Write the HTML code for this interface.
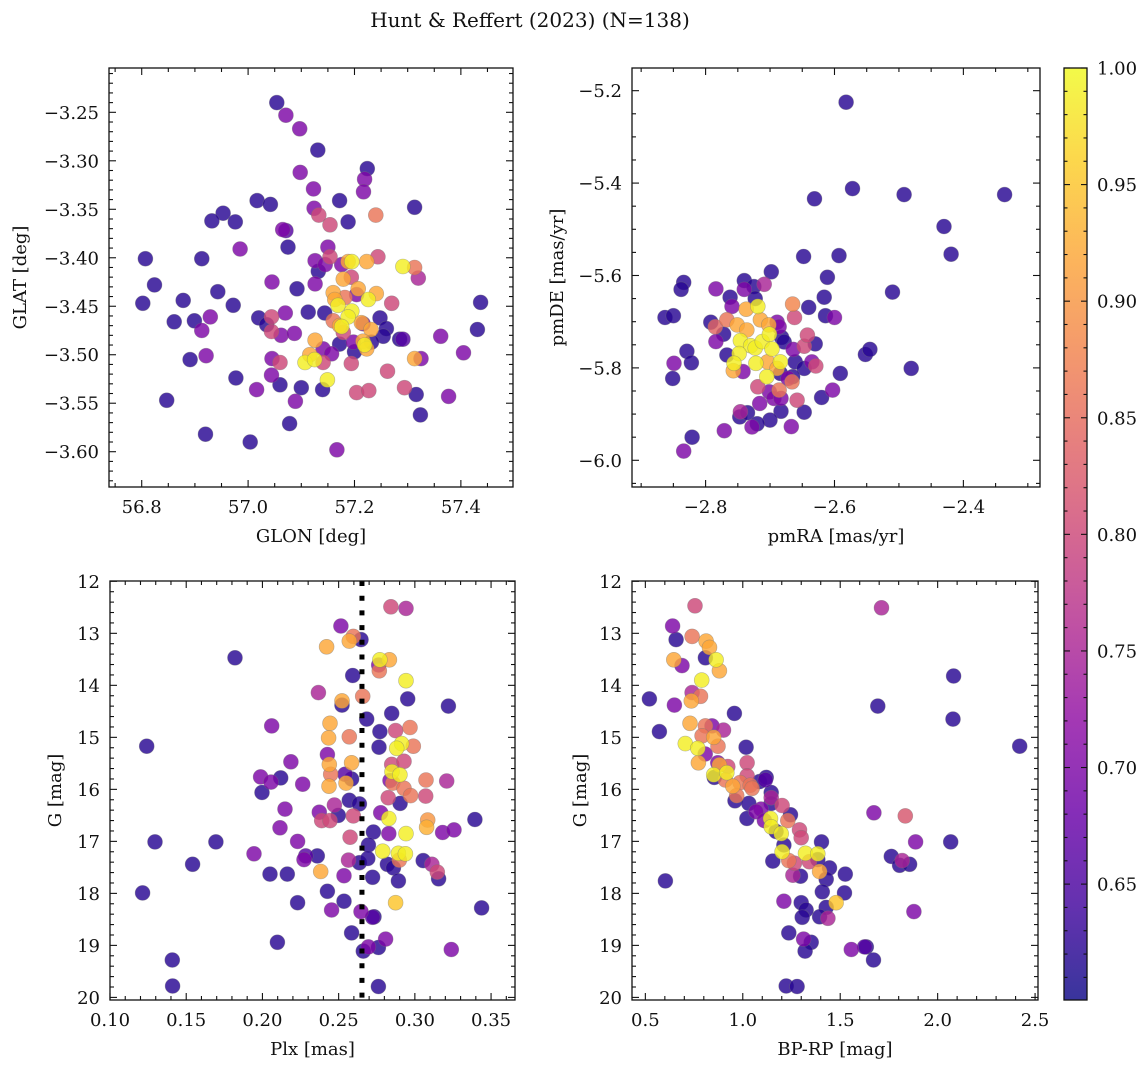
<!DOCTYPE html>
<html><head><meta charset="utf-8"><title>Hunt & Reffert (2023)</title>
<style>
html,body{margin:0;padding:0;background:#fff;}
svg{display:block;font-family:"DejaVu Serif","Liberation Serif",serif;}
</style></head>
<body>
<svg id="fig" width="1148" height="1067" viewBox="0 0 1148 1067" xmlns="http://www.w3.org/2000/svg">
<text x="530" y="27" font-size="20" text-anchor="middle" fill="#111">Hunt &amp; Reffert (2023) (N=138)</text>
</svg>
<script>
// ---------- Panel 1: GLON / GLAT ----------
const glon = [57.054,57.071,57.097,57.131,57.224,57.219,57.217,57.098,57.123,57.017,57.042,57.172,57.313,57.124,57.133,57.240,57.154,56.953,56.932,56.976,57.188,57.065,57.071,57.075,56.985,57.150,56.807,56.913,57.126,57.154,57.145,57.176,57.132,57.188,57.195,57.223,57.244,57.291,57.313,57.320,57.179,57.194,57.126,57.045,56.824,56.943,57.092,57.207,57.241,57.226,57.204,57.160,57.163,57.182,57.169,57.270,56.802,56.878,56.972,57.437,57.195,57.188,57.144,57.113,57.070,57.044,57.020,56.929,56.861,56.899,56.913,57.248,57.160,57.172,57.176,57.213,57.216,57.231,57.260,57.431,57.362,57.285,57.291,57.035,57.044,57.062,57.087,57.179,57.172,57.126,57.254,57.198,57.216,57.219,57.232,57.200,57.141,57.157,57.223,57.405,56.891,56.921,57.045,57.060,57.116,57.107,57.125,57.141,57.194,57.313,57.325,56.977,57.044,57.149,57.262,57.016,57.060,57.100,57.140,57.204,57.227,57.294,57.316,57.377,56.847,57.089,57.324,57.078,56.920,57.004,57.167];
const glat = [-3.240,-3.253,-3.267,-3.289,-3.308,-3.319,-3.332,-3.312,-3.329,-3.341,-3.345,-3.341,-3.348,-3.349,-3.356,-3.356,-3.366,-3.354,-3.362,-3.363,-3.363,-3.371,-3.372,-3.389,-3.391,-3.389,-3.401,-3.401,-3.403,-3.399,-3.407,-3.407,-3.414,-3.404,-3.404,-3.404,-3.399,-3.409,-3.410,-3.421,-3.422,-3.420,-3.427,-3.425,-3.428,-3.435,-3.432,-3.432,-3.437,-3.443,-3.438,-3.436,-3.443,-3.441,-3.449,-3.447,-3.447,-3.444,-3.449,-3.446,-3.455,-3.461,-3.457,-3.456,-3.457,-3.461,-3.462,-3.461,-3.466,-3.465,-3.475,-3.462,-3.465,-3.470,-3.471,-3.467,-3.468,-3.474,-3.473,-3.474,-3.481,-3.484,-3.484,-3.469,-3.476,-3.480,-3.478,-3.477,-3.489,-3.485,-3.481,-3.487,-3.486,-3.490,-3.487,-3.497,-3.494,-3.499,-3.494,-3.498,-3.505,-3.501,-3.504,-3.508,-3.500,-3.508,-3.505,-3.508,-3.509,-3.504,-3.504,-3.524,-3.521,-3.526,-3.517,-3.536,-3.531,-3.534,-3.536,-3.539,-3.537,-3.534,-3.541,-3.543,-3.547,-3.548,-3.562,-3.571,-3.582,-3.590,-3.598];
const prob1 = [.62,.70,.70,.62,.62,.70,.70,.70,.70,.62,.62,.62,.62,.70,.80,.86,.80,.62,.62,.62,.62,.70,.66,.62,.70,.70,.62,.62,.70,.80,.70,.70,.62,.92,.99,.92,.80,.99,.86,.75,.92,.80,.70,.70,.62,.62,.62,.92,.92,.99,.70,.92,.92,.86,.99,.80,.62,.62,.62,.62,.99,.99,.62,.62,.70,.80,.62,.70,.62,.62,.70,.62,.86,.92,.99,.92,.70,.92,.62,.62,.70,.62,.66,.62,.80,.70,.70,.80,.62,.92,.62,.70,.92,.99,.62,.62,.70,.70,.92,.70,.62,.70,.70,.80,.92,.99,.99,.80,.80,.92,.70,.62,.70,.99,.80,.70,.62,.62,.62,.80,.80,.80,.62,.70,.62,.70,.62,.62,.62,.62,.70];

// ---------- Panel 2: pmRA / pmDE ----------
const pmra = [-2.582,-2.572,-2.631,-2.492,-2.336,-2.430,-2.419,-2.648,-2.593,-2.698,-2.611,-2.510,-2.616,-2.640,-2.614,-2.600,-2.834,-2.838,-2.863,-2.850,-2.740,-2.725,-2.709,-2.784,-2.740,-2.762,-2.759,-2.723,-2.665,-2.662,-2.737,-2.719,-2.792,-2.767,-2.785,-2.772,-2.784,-2.751,-2.736,-2.715,-2.702,-2.689,-2.686,-2.682,-2.678,-2.746,-2.730,-2.723,-2.712,-2.701,-2.697,-2.767,-2.748,-2.756,-2.757,-2.742,-2.722,-2.704,-2.684,-2.689,-2.705,-2.684,-2.672,-2.664,-2.647,-2.642,-2.630,-2.661,-2.647,-2.635,-2.629,-2.665,-2.666,-2.686,-2.701,-2.719,-2.694,-2.683,-2.658,-2.620,-2.603,-2.591,-2.716,-2.746,-2.747,-2.735,-2.683,-2.647,-2.700,-2.720,-2.728,-2.667,-2.771,-2.821,-2.834,-2.849,-2.851,-2.829,-2.822,-2.552,-2.545,-2.481];
const pmde = [-5.225,-5.412,-5.434,-5.425,-5.425,-5.494,-5.554,-5.559,-5.557,-5.592,-5.604,-5.636,-5.647,-5.669,-5.687,-5.691,-5.615,-5.630,-5.691,-5.687,-5.611,-5.624,-5.619,-5.629,-5.630,-5.647,-5.667,-5.650,-5.662,-5.691,-5.673,-5.667,-5.701,-5.696,-5.711,-5.727,-5.743,-5.707,-5.718,-5.696,-5.707,-5.701,-5.711,-5.734,-5.744,-5.741,-5.752,-5.757,-5.743,-5.727,-5.759,-5.772,-5.769,-5.790,-5.806,-5.808,-5.790,-5.787,-5.787,-5.801,-5.819,-5.812,-5.823,-5.760,-5.753,-5.729,-5.748,-5.787,-5.801,-5.787,-5.796,-5.819,-5.830,-5.848,-5.852,-5.841,-5.866,-5.866,-5.870,-5.864,-5.848,-5.812,-5.877,-5.895,-5.906,-5.897,-5.894,-5.896,-5.913,-5.921,-5.928,-5.927,-5.936,-5.950,-5.980,-5.790,-5.823,-5.764,-5.789,-5.771,-5.760,-5.801];
const prob2 = [.62,.62,.62,.62,.62,.62,.62,.62,.62,.62,.62,.62,.62,.62,.62,.70,.62,.62,.62,.62,.62,.62,.75,.70,.70,.62,.70,.62,.88,.80,.92,.99,.62,.86,.84,.62,.70,.92,.92,.92,.92,.70,.70,.62,.62,.99,.99,.99,.99,.99,.99,.62,.99,.99,.92,.70,.99,.92,.99,.92,.99,.62,.70,.70,.80,.80,.62,.62,.62,.70,.80,.62,.86,.86,.70,.80,.70,.70,.80,.62,.70,.62,.70,.75,.62,.62,.62,.62,.62,.62,.70,.70,.70,.62,.70,.70,.62,.62,.62,.62,.62,.62];

// ---------- Panel 3: Plx / G ----------
const plx = [0.2843,0.2942,0.2515,0.2596,0.2570,0.2647,0.2421,0.1820,0.2771,0.2833,0.2763,0.2767,0.2592,0.2942,0.2367,0.2658,0.2522,0.2522,0.2953,0.3220,0.2848,0.2684,0.2443,0.2061,0.2968,0.2874,0.2771,0.2434,0.2570,0.1241,0.2765,0.2913,0.2881,0.2990,0.2426,0.2187,0.2439,0.2585,0.2848,0.2929,0.1988,0.2056,0.2120,0.2264,0.2448,0.2542,0.2585,0.2437,0.2548,0.2850,0.2902,0.2837,0.2855,0.2929,0.2972,0.3073,0.3209,0.1997,0.2570,0.2636,0.2825,0.2903,0.3071,0.2148,0.2472,0.2373,0.2498,0.2389,0.2443,0.2596,0.2776,0.2829,0.3084,0.3077,0.3394,0.2115,0.3182,0.3257,0.2728,0.2829,0.2942,0.2575,0.1295,0.1695,0.2231,0.2695,0.2789,0.2892,0.2938,0.1945,0.2284,0.2360,0.2273,0.2565,0.2636,0.2691,0.2820,0.2859,0.2898,0.3055,0.3112,0.3147,0.3156,0.1542,0.2050,0.2163,0.2382,0.2535,0.2723,0.2892,0.1214,0.2426,0.2231,0.2535,0.2874,0.3438,0.2454,0.2647,0.2723,0.2732,0.2585,0.2098,0.2808,0.2695,0.2761,0.2662,0.3239,0.1409,0.1411,0.2761];
const gmag3 = [12.49,12.52,12.86,13.06,13.15,13.12,13.26,13.47,13.51,13.51,13.61,13.72,13.81,13.91,14.14,14.21,14.30,14.38,14.26,14.40,14.54,14.65,14.73,14.78,14.81,14.87,14.89,15.01,14.99,15.17,15.19,15.12,15.21,15.17,15.33,15.47,15.52,15.49,15.52,15.46,15.76,15.86,15.78,15.90,15.71,15.71,15.80,15.94,15.88,15.66,15.72,15.83,15.88,15.98,16.12,15.82,15.84,16.06,16.21,16.28,16.16,16.27,16.13,16.38,16.30,16.44,16.50,16.60,16.60,16.51,16.45,16.56,16.59,16.73,16.58,16.74,16.83,16.78,16.82,16.85,16.85,16.92,17.01,17.01,17.00,17.07,17.19,17.23,17.24,17.24,17.28,17.28,17.35,17.36,17.41,17.33,17.44,17.51,17.36,17.37,17.44,17.59,17.72,17.44,17.63,17.63,17.58,17.66,17.69,17.76,17.99,17.96,18.18,18.15,18.18,18.28,18.32,18.35,18.46,18.45,18.76,18.94,18.88,19.03,19.04,19.11,19.08,19.28,19.78,19.79];
const prob3 = [.80,.75,.70,.86,.92,.62,.92,.62,.99,.92,.70,.86,.62,.99,.75,.86,.92,.62,.62,.62,.62,.62,.92,.70,.86,.80,.62,.92,.86,.62,.62,.99,.99,.86,.70,.70,.92,.92,.80,.80,.70,.70,.62,.70,.86,.66,.62,.92,.92,.99,.99,.70,.86,.86,.86,.86,.75,.62,.62,.62,.80,.62,.80,.70,.75,.70,.62,.80,.80,.80,.70,.99,.90,.93,.62,.70,.70,.70,.62,.70,.99,.80,.62,.62,.70,.62,.99,.99,.99,.70,.66,.62,.70,.75,.62,.62,.62,.62,.86,.62,.75,.80,.62,.62,.62,.62,.92,.70,.62,.62,.62,.62,.62,.62,.95,.62,.70,.70,.66,.62,.62,.62,.70,.70,.62,.62,.70,.62,.62,.62];
const plxMean = 0.2653;

// ---------- Panel 4: BP-RP / G ----------
const bprp = [0.755,1.712,0.640,0.658,0.740,0.812,0.829,0.808,0.863,0.880,0.646,0.688,0.789,2.082,0.740,0.783,0.736,0.521,0.649,1.693,0.957,2.079,0.729,0.808,0.842,0.901,0.572,0.791,0.851,0.873,0.705,0.769,1.017,2.421,0.807,0.772,0.872,0.880,0.923,1.022,0.851,0.918,0.854,0.911,1.022,0.949,0.986,1.038,1.048,1.086,1.120,1.116,1.146,1.146,0.969,0.960,1.031,1.146,1.202,1.094,1.068,1.021,1.111,1.142,1.245,1.231,1.146,1.171,1.197,1.291,1.300,1.673,1.834,1.404,1.887,2.067,1.211,1.202,1.322,1.385,1.342,1.385,1.154,1.236,1.265,1.762,1.805,1.818,1.856,1.445,1.394,1.257,1.296,1.526,1.428,0.603,1.408,1.522,1.479,1.211,1.300,1.325,1.428,1.437,1.305,1.394,1.878,1.236,1.312,1.351,1.320,1.557,1.625,1.634,1.671,1.223,1.279];
const gmag4 = [12.47,12.51,12.86,13.12,13.06,13.15,13.27,13.47,13.51,13.72,13.51,13.62,13.90,13.82,14.14,14.21,14.30,14.26,14.38,14.40,14.54,14.65,14.73,14.78,14.78,14.86,14.89,14.97,15.00,15.17,15.12,15.21,15.19,15.17,15.32,15.49,15.49,15.53,15.56,15.49,15.72,15.68,15.77,15.82,15.74,15.94,15.87,15.92,15.98,15.85,15.77,15.82,16.06,16.16,16.12,16.22,16.27,16.27,16.31,16.38,16.43,16.56,16.60,16.56,16.49,16.60,16.72,16.81,16.85,16.78,16.93,16.45,16.51,17.01,17.01,17.01,17.07,17.20,17.23,17.24,17.39,17.35,17.38,17.37,17.42,17.29,17.46,17.37,17.44,17.51,17.58,17.65,17.67,17.63,17.73,17.76,17.97,17.99,18.18,18.15,18.18,18.32,18.27,18.48,18.46,18.45,18.35,18.76,18.88,18.94,19.11,19.08,19.03,19.03,19.28,19.78,19.79];
const prob4 = [.80,.75,.70,.62,.86,.92,.92,.62,.99,.92,.92,.70,.99,.62,.75,.86,.92,.62,.70,.62,.62,.62,.92,.86,.70,.75,.62,.86,.92,.86,.99,.99,.62,.62,.70,.92,.70,.92,.80,.80,.99,.99,.62,.86,.80,.92,.86,.86,.86,.62,.62,.66,.62,.75,.86,.62,.62,.62,.80,.70,.70,.62,.70,.99,.62,.86,.99,.62,.99,.80,.80,.70,.82,.62,.70,.62,.62,.99,.99,.99,.80,.62,.62,.86,.80,.62,.62,.75,.62,.62,.92,.75,.62,.62,.62,.62,.62,.62,.95,.70,.62,.62,.62,.75,.62,.62,.70,.62,.70,.62,.62,.70,.66,.62,.62,.62,.62];

// ---------- Colorbar ticks ----------
const cbarTicks = [0.65,0.70,0.75,0.80,0.85,0.90,0.95,1.00];
const cbarMin = 0.6003, cbarMax = 1.0;

const NS = 'http://www.w3.org/2000/svg';
const svg = document.getElementById('fig');
function mk(tag, attrs, parent){
  const e = document.createElementNS(NS, tag);
  for (const k in attrs) e.setAttribute(k, attrs[k]);
  (parent||svg).appendChild(e);
  return e;
}
const plasmaStops = ['#0d0887','#41049d','#6a00a8','#8f0da4','#b12a90','#cc4778','#e16462','#f2844b','#fca636','#fcce25','#f0f921'];
function hex2rgb(h){return [parseInt(h.slice(1,3),16),parseInt(h.slice(3,5),16),parseInt(h.slice(5,7),16)];}
function plasma(t){
  t = Math.max(0, Math.min(1, t));
  const s = t*10, i = Math.min(9, Math.floor(s)), f = s - i;
  const a = hex2rgb(plasmaStops[i]), b = hex2rgb(plasmaStops[i+1]);
  return 'rgb(' + a.map((v,k)=>Math.round(v+(b[k]-v)*f)).join(',') + ')';
}
function pcol(p){ return plasma((p - cbarMin)/(cbarMax - cbarMin)); }
function fmt(v, d){ const s = v.toFixed(d); return s.replace('-', '\u2212'); }

const panels = [
  {name:'sky-position', L:109, R:513, T:68, B:487, xmin:56.7385, xmax:57.498, ymin:-3.6364, ymax:-3.2043,
   xMaj:0.2, xMin:0.05, yMaj:0.05, yMin:0.01, xd:1, yd:2, xlabel:'GLON [deg]', ylabel:'GLAT [deg]', ylx:20,
   xs:glon, ys:glat, ps:prob1, invY:false},
  {name:'proper-motion', L:632, R:1040, T:68, B:487, xmin:-2.9142, xmax:-2.2811, ymin:-6.0578, ymax:-5.1509,
   xMaj:0.2, xMin:0.05, yMaj:0.2, yMin:0.05, xd:1, yd:1, xlabel:'pmRA [mas/yr]', ylabel:'pmDE [mas/yr]', ylx:557,
   xs:pmra, ys:pmde, ps:prob2, invY:false},
  {name:'parallax-magnitude', L:110, R:515, T:581, B:1000, xmin:0.10, xmax:0.3657, ymin:11.994, ymax:20.05,
   xMaj:0.05, xMin:0.01, yMaj:1, yMin:0.2, xd:2, yd:0, xlabel:'Plx [mas]', ylabel:'G [mag]', ylx:55,
   xs:plx, ys:gmag3, ps:prob3, invY:true},
  {name:'color-magnitude', L:632, R:1038, T:581, B:1000, xmin:0.4315, xmax:2.515, ymin:11.994, ymax:20.05,
   xMaj:0.5, xMin:0.1, yMaj:1, yMin:0.2, xd:1, yd:0, xlabel:'BP-RP [mag]', ylabel:'G [mag]', ylx:580,
   xs:bprp, ys:gmag4, ps:prob4, invY:true}
];

panels.forEach((P, pi) => {
  const g = mk('g', {});
  
  
  const sx = v => P.L + (v - P.xmin)/(P.xmax - P.xmin)*(P.R - P.L);
  const sy = P.invY ? (v => P.T + (v - P.ymin)/(P.ymax - P.ymin)*(P.B - P.T))
                    : (v => P.B - (v - P.ymin)/(P.ymax - P.ymin)*(P.B - P.T));
  const clipId = 'clip' + pi;
  const cp = mk('clipPath', {id: clipId}, g);
  mk('rect', {x:P.L, y:P.T, width:P.R-P.L, height:P.B-P.T}, cp);

  // points (low prob first)
  const pts = mk('g', {'clip-path':'url(#'+clipId+')'}, g);
  
  
  const n = Math.min(P.xs.length, P.ys.length, P.ps.length);
  const idx = [...Array(n).keys()].sort((a,b)=>P.ps[a]-P.ps[b]);
  idx.forEach(i => {
    const c = mk('circle', {cx:sx(P.xs[i]).toFixed(1), cy:sy(P.ys[i]).toFixed(1), r:7.5,
      fill:pcol(P.ps[i]), 'fill-opacity':0.82, stroke:'#777', 'stroke-opacity':0.5, 'stroke-width':0.6}, pts);
    
    
  });

  if (pi === 2) {
    const ln = mk('line', {x1:sx(plxMean), x2:sx(plxMean), y1:P.T, y2:P.B, stroke:'#000', 'stroke-width':5, 'stroke-dasharray':'5 9.7'}, g);
    
    
  }

  // ticks
  const tk = mk('g', {stroke:'#111', 'stroke-width':1.1}, g);
  const eps = 1e-9;
  const xStart = Math.ceil(P.xmin/P.xMin - eps)*P.xMin;
  for (let v = xStart; v <= P.xmax + eps; v += P.xMin) {
    const isMaj = Math.abs(v/P.xMaj - Math.round(v/P.xMaj)) < 1e-6;
    const len = isMaj ? 7 : 4, x = sx(v);
    mk('line', {x1:x, x2:x, y1:P.B, y2:P.B-len}, tk);
    mk('line', {x1:x, x2:x, y1:P.T, y2:P.T+len}, tk);
    if (isMaj) {
      const t = mk('text', {x:x, y:P.B+26, 'font-size':18, 'text-anchor':'middle', fill:'#111', stroke:'none'}, g);
      t.textContent = fmt(Math.round(v/P.xMaj)*P.xMaj, P.xd);
      
      
    }
  }
  const yStart = Math.ceil(P.ymin/P.yMin - eps)*P.yMin;
  for (let v = yStart; v <= P.ymax + eps; v += P.yMin) {
    const isMaj = Math.abs(v/P.yMaj - Math.round(v/P.yMaj)) < 1e-6;
    const len = isMaj ? 7 : 4, y = sy(v);
    mk('line', {x1:P.L, x2:P.L+len, y1:y, y2:y}, tk);
    mk('line', {x1:P.R, x2:P.R-len, y1:y, y2:y}, tk);
    if (isMaj) {
      const t = mk('text', {x:P.L-10, y:y+6.5, 'font-size':18, 'text-anchor':'end', fill:'#111', stroke:'none'}, g);
      t.textContent = fmt(Math.round(v/P.yMaj)*P.yMaj, P.yd);
      
      
    }
  }
  const fr = mk('rect', {x:P.L, y:P.T, width:P.R-P.L, height:P.B-P.T, fill:'none', stroke:'#111', 'stroke-width':1.3}, g);
  
  

  const xl = mk('text', {x:(P.L+P.R)/2, y:P.B+55, 'font-size':18, 'text-anchor':'middle', fill:'#111'}, g);
  xl.textContent = P.xlabel;
  
  
  const yl = mk('text', {x:0, y:0, 'font-size':18, 'text-anchor':'middle', fill:'#111',
    transform:'translate(' + (P.ylx+6) + ',' + ((P.T+P.B)/2) + ') rotate(-90)'}, g);
  yl.textContent = P.ylabel;
  
  
});

// ---------- Colorbar ----------
(function(){
  const L = 1064, R = 1087, T = 68, B = 1000;
  const g = mk('g', {});
  
  
  const defs = mk('defs', {}, g);
  const grad = mk('linearGradient', {id:'plasmaGrad', x1:0, y1:1, x2:0, y2:0}, defs);
  for (let k = 0; k <= 20; k++) mk('stop', {offset:(k/20), 'stop-color':plasma(k/20)}, grad);
  mk('rect', {x:L, y:T, width:R-L, height:B-T, fill:'url(#plasmaGrad)', 'fill-opacity':0.82}, g);
  const sy = v => B - (v - cbarMin)/(cbarMax - cbarMin)*(B - T);
  const tk = mk('g', {stroke:'#111', 'stroke-width':1.1}, g);
  for (let v = 0.61; v <= 1.0 + 1e-9; v += 0.01) {
    const maj = Math.abs(v*20 - Math.round(v*20)) < 1e-6;
    const y = sy(v), len = maj ? 6 : 3.5;
    mk('line', {x1:L, x2:L+len, y1:y, y2:y}, tk);
    mk('line', {x1:R, x2:R-len, y1:y, y2:y}, tk);
  }
  cbarTicks.forEach(v => {
    const t = mk('text', {x:R+10, y:sy(v)+6.5, 'font-size':18, fill:'#111'}, g);
    t.textContent = v.toFixed(2);
    
    
  });
  mk('rect', {x:L, y:T, width:R-L, height:B-T, fill:'none', stroke:'#111', 'stroke-width':1.3}, g);
})();
</script>
</body></html>
